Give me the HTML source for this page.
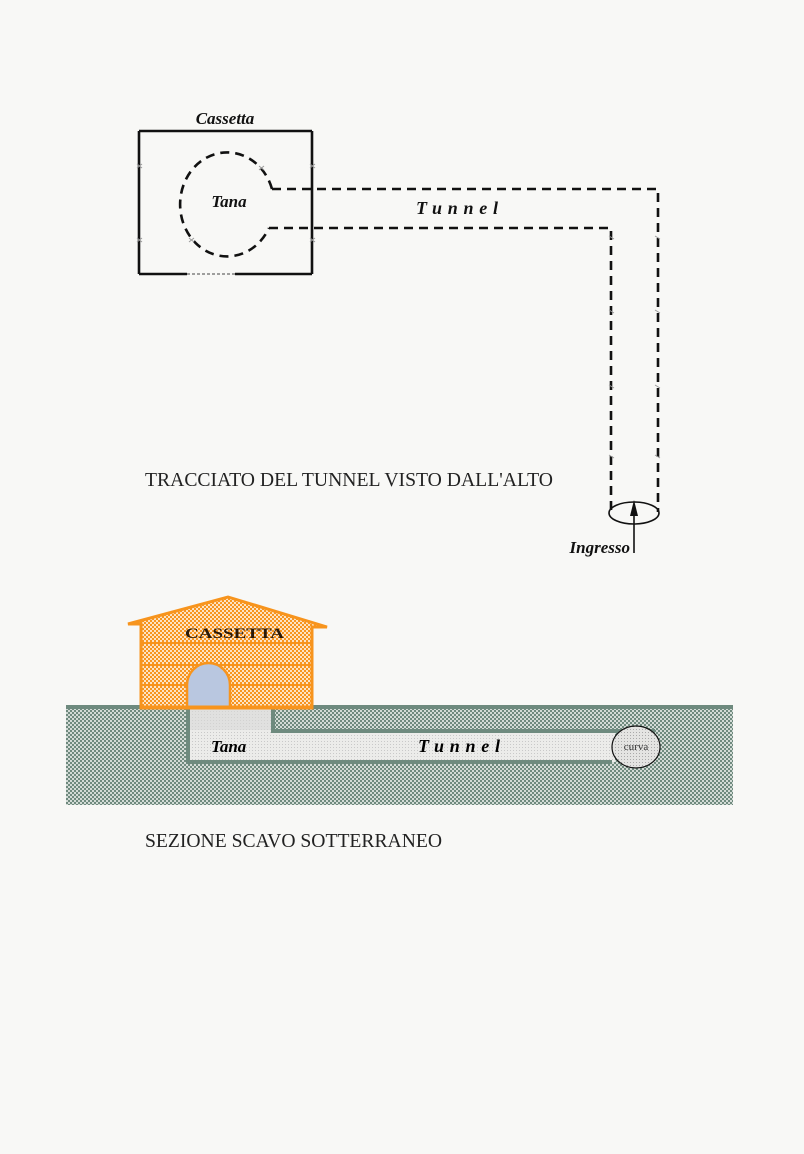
<!DOCTYPE html>
<html><head><meta charset="utf-8"><style>
html,body{margin:0;padding:0;background:#f8f8f6;}
svg{display:block;}
</style></head><body>
<svg width="804" height="1154" viewBox="0 0 804 1154" xmlns="http://www.w3.org/2000/svg">
<defs>
<pattern id="grd" width="4" height="4" patternUnits="userSpaceOnUse">
<rect width="4" height="4" fill="#d3dbd6"/>
<rect width="2" height="2" fill="#6f8a7e"/>
<rect x="2" y="2" width="2" height="2" fill="#6f8a7e"/>
</pattern>
<pattern id="org" width="4" height="4" patternUnits="userSpaceOnUse">
<rect width="4" height="4" fill="#f7951f"/>
<rect width="2" height="2" fill="#fde3c4"/>
<rect x="2" y="2" width="2" height="2" fill="#fde3c4"/>
</pattern>
<pattern id="cav" width="3" height="3" patternUnits="userSpaceOnUse">
<rect width="3" height="3" fill="#ececea"/>
<rect width="1" height="1" fill="#c9c9c9"/>
</pattern>
<pattern id="cur" width="3" height="3" patternUnits="userSpaceOnUse">
<rect width="3" height="3" fill="#e4e4e2"/>
<rect width="1" height="1" fill="#a9a9a9"/>
</pattern>
</defs>
<rect width="804" height="1154" fill="#f8f8f6"/>

<!-- TOP VIEW -->
<text x="225" y="124" text-anchor="middle" font-family="Liberation Serif, serif" font-weight="bold" font-style="italic" font-size="17" fill="#111">Cassetta</text>
<g stroke="#111" stroke-width="2.6" fill="none">
<line x1="139" y1="131" x2="312" y2="131"/>
<line x1="139" y1="131" x2="139" y2="274"/>
<line x1="312" y1="131" x2="312" y2="274"/>
<line x1="139" y1="274" x2="187" y2="274"/>
<line x1="235" y1="274" x2="312" y2="274"/>
</g>
<line x1="187" y1="274" x2="235" y2="274" stroke="#444" stroke-width="1" stroke-dasharray="3,2"/>

<g stroke="#111" stroke-width="2.6" fill="none" stroke-dasharray="9,6">
<path d="M272 189 A47 52 0 1 0 269 228"/>
<path d="M272 189 L658 189 L658 512"/>
<path d="M269 228 L611 228 L611 512"/>
</g>
<text x="416" y="214" font-family="Liberation Serif, serif" font-weight="bold" font-style="italic" font-size="18" fill="#111" textLength="82" lengthAdjust="spacing">Tunnel</text>
<text x="229" y="207" text-anchor="middle" font-family="Liberation Serif, serif" font-weight="bold" font-style="italic" font-size="17" fill="#111">Tana</text>

<g stroke="#999" stroke-width="1">
<path d="M137 164 l5 4 M137 168 l5 -4"/>
<path d="M310 164 l5 4 M310 168 l5 -4"/>
<path d="M137 238 l5 4 M137 242 l5 -4"/>
<path d="M310 238 l5 4 M310 242 l5 -4"/>
<path d="M259 166 l5 4 M259 170 l5 -4"/>
<path d="M189 238 l5 4 M189 242 l5 -4"/>
<path d="M609 236 l5 3 M655 236 l5 3 M609 310 l5 3 M655 310 l5 3 M609 385 l5 3 M655 385 l5 3 M609 455 l5 3 M655 455 l5 3"/>
</g>

<ellipse cx="634" cy="513" rx="25" ry="11" fill="none" stroke="#111" stroke-width="1.6"/>
<line x1="634" y1="553" x2="634" y2="512" stroke="#111" stroke-width="1.6"/>
<polygon points="634,500 630,516 638,516" fill="#111"/>
<text x="630" y="553" text-anchor="end" font-family="Liberation Serif, serif" font-weight="bold" font-style="italic" font-size="17" fill="#111">Ingresso</text>

<text x="145" y="486" font-family="Liberation Serif, serif" font-size="20" fill="#222" textLength="408" lengthAdjust="spacingAndGlyphs">TRACCIATO DEL TUNNEL VISTO DALL'ALTO</text>

<!-- SECTION -->
<rect x="66" y="706" width="667" height="99" fill="url(#grd)"/>
<rect x="66" y="705" width="667" height="4" fill="#6e8a7e"/>
<polygon points="188,708 273,708 273,731 615,731 615,762 188,762" fill="url(#cav)"/>
<rect x="190" y="708" width="81" height="22" fill="#d9d9d7" opacity="0.6"/>
<g stroke="#6e8a7e" stroke-width="4" fill="none">
<path d="M188 707 L188 762 L612 762"/>
<path d="M273 707 L273 731 L655 731"/>
</g>
<ellipse cx="636" cy="747" rx="24" ry="21" fill="url(#cur)" stroke="#111" stroke-width="1.2"/>
<text x="636" y="750" text-anchor="middle" font-family="Liberation Serif, serif" font-size="11" fill="#333">curva</text>
<text x="211" y="752" font-family="Liberation Serif, serif" font-weight="bold" font-style="italic" font-size="17" fill="#000">Tana</text>
<text x="418" y="752" font-family="Liberation Serif, serif" font-weight="bold" font-style="italic" font-size="18" fill="#000" textLength="82" lengthAdjust="spacing">Tunnel</text>

<!-- house -->
<polygon points="128,624 228,597 327,627 312,627 312,708 141,708 141,624" fill="url(#org)" stroke="#f7941d" stroke-width="3" stroke-linejoin="miter"/>
<g stroke="#f7941d" stroke-width="2">
<line x1="141" y1="643" x2="312" y2="643"/>
<line x1="141" y1="665" x2="312" y2="665"/>
<line x1="141" y1="685" x2="312" y2="685"/>
</g>
<path d="M187 708 L187 685 A21.5 22 0 0 1 230 685 L230 708 Z" fill="#b9c7e0" stroke="#f7941d" stroke-width="2.5"/>
<line x1="141" y1="707" x2="312" y2="707" stroke="#f7941d" stroke-width="3"/>
<text x="185" y="638" font-family="Liberation Serif, serif" font-weight="bold" font-size="15" fill="#2a1a0a" textLength="99" lengthAdjust="spacingAndGlyphs">CASSETTA</text>

<text x="145" y="847" font-family="Liberation Serif, serif" font-size="20" fill="#222" textLength="297" lengthAdjust="spacingAndGlyphs">SEZIONE SCAVO SOTTERRANEO</text>
</svg>
</body></html>
